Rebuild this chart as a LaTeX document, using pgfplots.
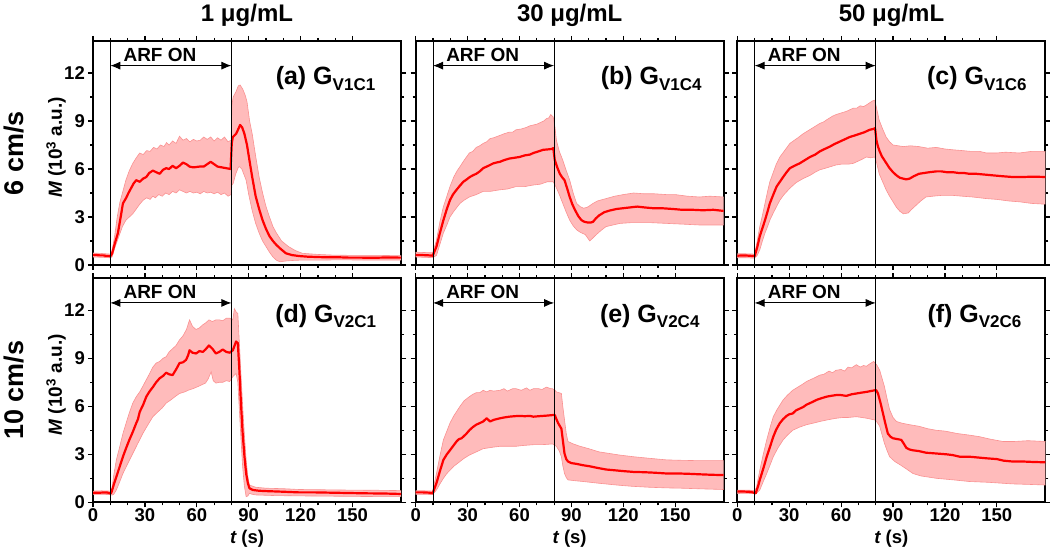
\documentclass[border=0pt]{standalone}
\usepackage{fontspec}
\setmainfont{Liberation Sans}
\usepackage{pgfplots}
\pgfplotsset{compat=1.18}
\usepgfplotslibrary{fillbetween}
\usetikzlibrary{arrows.meta}
\definecolor{bandfill}{RGB}{255,187,187}
\definecolor{bandedge}{RGB}{250,145,145}
\definecolor{curve}{RGB}{255,0,0}
\newcommand{\tickf}{\fontsize{18.5}{20}\selectfont\bfseries}
\newcommand{\arff}{\fontsize{19}{21}\selectfont\bfseries}
\newcommand{\plab}[2]{{\fontsize{25}{27}\selectfont\bfseries (#1) G}{\fontsize{17}{19}\selectfont\bfseries\raisebox{-5.5pt}{#2}}}
\pgfplotsset{
 panel/.style={
  width=308pt, height=224pt, scale only axis, anchor=south west,
  xmin=0, xmax=178, ymin=0, ymax=14,
  xtick={0,30,...,150}, minor x tick num=2,
  ytick={0,3,...,12}, minor y tick num=1,
  tick align=outside, major tick length=5pt, minor tick length=3pt,
  axis line style={line width=2pt},
  every tick/.style={black, line width=1.2pt},
  ticklabel style={font=\tickf},
  xticklabel style={inner sep=1pt},
  yticklabel style={inner sep=1pt, xshift=-2pt},
  /pgf/number format/assume math mode=true,
  set layers,
 },
 edge/.style={draw=bandedge, line width=0.6pt},
 meanline/.style={draw=curve, line width=2.2pt, line join=round},
 ylab/.style={ylabel={\fontsize{19}{21}\selectfont\bfseries\itshape M\upshape\ (10\textsuperscript{3} a.u.)},
   ylabel style={at={(axis description cs:-0.101,0.5246)}, anchor=base, rotate=0}},
 xlab/.style={xlabel={\fontsize{18.5}{20}\selectfont\bfseries\itshape t\upshape\ (s)},
   xlabel style={at={(axis description cs:0.5,0)}, anchor=base, yshift=-41pt}},
}
\newcommand{\deco}{%
 \draw[line width=0.9pt] (axis cs:10,0) -- (axis cs:10,14);
 \draw[line width=0.9pt] (axis cs:80,0) -- (axis cs:80,14);
 \draw[{Latex[length=10pt,width=8pt]}-{Latex[length=10pt,width=8pt]}, line width=0.9pt] (axis cs:10,12.46) -- (axis cs:80,12.46);
 \node[anchor=base, inner sep=0pt, font=\arff] at (axis cs:38.7,12.72) {ARF ON};
}
\begin{document}
\begin{tikzpicture}
% ---------------- (a)
\begin{axis}[panel, ylab, at={(93pt,283pt)}, xticklabels={}]
\addplot[edge, name path=ua] coordinates {(0,0.75)(5,0.72)(10,0.68)(11,0.9)(12.5,1.8)(14,3.0)(15.5,3.9)(17,4.5)(19,5.3)(21,5.9)(23,6.35)(25,6.7)(27,7.0)(29,6.9)(31,7.15)(33,7.1)(35,7.35)(37,7.25)(39,7.5)(41,7.4)(42.5,7.65)(44,7.5)(46,7.75)(48,7.6)(50,8.05)(52,7.8)(54,7.9)(56,7.7)(58,7.85)(60,7.75)(62,7.8)(64,8.0)(66,7.85)(68,8.0)(70,7.75)(72,7.95)(74,7.8)(76,8.0)(78,7.7)(79.8,7.8)(80.3,10.0)(81,10.5)(82.5,10.8)(84,11.2)(85,11.25)(86.5,11.0)(88,10.6)(89,10.2)(90.5,9.0)(92,8.2)(94,6.8)(96,5.5)(98,4.5)(100,3.65)(102,3.0)(104,2.4)(106,2.0)(109,1.5)(113,1.15)(117,0.9)(121,0.73)(130,0.66)(138,0.62)(150,0.6)(165,0.6)(178,0.58)};
\addplot[edge, name path=la] coordinates {(0,0.5)(5,0.48)(10,0.45)(11,0.5)(13,1.2)(15,1.8)(17,2.4)(19,2.8)(21,3.0)(23,3.2)(25,3.5)(27,3.8)(29,4.05)(31,4.2)(33,4.1)(34.6,4.3)(36,4.2)(38,4.4)(40,4.3)(42,4.5)(44,4.4)(46,4.6)(48,4.5)(50,4.7)(52,4.6)(54,4.5)(56,4.6)(58,4.5)(60,4.55)(62,4.45)(64,4.6)(66,4.5)(68,4.55)(70,4.45)(72,4.55)(74,4.4)(76,4.5)(78,4.3)(79.8,4.4)(80.3,5.0)(81,5.1)(82.5,5.7)(84,6.1)(84.6,6.15)(86,6.0)(88.5,5.3)(90,4.4)(92,3.4)(94,2.6)(96,2.0)(98,1.5)(100,1.15)(102,0.8)(104,0.5)(106,0.3)(108,0.2)(111.5,0.25)(115,0.28)(119,0.3)(130,0.3)(140,0.32)(160,0.31)(178,0.31)};
\addplot[bandfill] fill between[of=ua and la];
\addplot[meanline] coordinates {(0,0.63)(2,0.62)(4,0.6)(6,0.6)(8,0.56)(10,0.55)(11,0.7)(12.5,1.3)(14.4,2.0)(16,3.0)(17.3,3.85)(19.2,4.2)(20.5,4.5)(22,4.8)(23.5,5.1)(25,5.3)(27,5.2)(29,5.4)(30.8,5.5)(32.5,5.75)(34.6,5.9)(36.5,5.8)(38.5,5.7)(40.5,5.95)(42.3,6.05)(44,6.0)(46,6.2)(48,6.05)(50,6.2)(52,6.4)(54,6.3)(55.8,6.15)(58,6.1)(61.5,6.15)(64,6.15)(66,6.3)(68,6.45)(70,6.3)(72,6.15)(74.5,6.1)(77,6.05)(79.5,6.0)(80.2,7.6)(80.8,8.0)(82.7,8.2)(84,8.5)(85,8.75)(86.2,8.6)(87.5,8.2)(89,7.5)(90.4,6.55)(92,5.5)(94,4.3)(96,3.5)(98,2.8)(100,2.25)(102,1.8)(104,1.5)(106,1.25)(108.5,1.0)(111.5,0.73)(115,0.62)(119,0.56)(124,0.52)(129,0.5)(135,0.48)(140,0.49)(148,0.46)(155,0.46)(162,0.45)(170,0.47)(178,0.46)};
\deco
\node[anchor=base east, inner sep=0pt] at (rel axis cs:0.917,0.8036) {\plab{a}{V1C1}};
\end{axis}
% ---------------- (b)
\begin{axis}[panel, at={(415.7pt,283pt)}, xticklabels={}, yticklabels={}]
\addplot[edge, name path=ub] coordinates {(0,0.8)(5,0.78)(9.8,0.76)(12,1.55)(14,2.7)(16,3.65)(18,4.3)(19.8,4.9)(22,5.5)(24,5.9)(25.6,6.15)(28,6.55)(31,7.0)(33,7.1)(35,7.35)(37,7.45)(39,7.6)(41,7.7)(43,7.9)(45,7.95)(48.7,8.1)(51,8.2)(54,8.3)(56,8.3)(58,8.45)(61,8.5)(64,8.6)(66,8.7)(68,8.75)(70,8.8)(72,8.9)(74,9.0)(75.6,9.15)(77,9.2)(78,9.4)(79.5,9.25)(80.5,8.6)(81.3,7.8)(83,7.1)(85,6.55)(87,5.9)(89,5.3)(91,4.5)(93,3.85)(95,3.65)(97,3.55)(99,3.6)(100.5,3.7)(102.5,3.85)(105,4.0)(110,4.15)(115,4.3)(120,4.4)(126,4.5)(132,4.45)(138,4.45)(145,4.4)(150,4.4)(157,4.3)(164,4.25)(170,4.3)(178,4.25)};
\addplot[edge, name path=lb] coordinates {(0,0.5)(5,0.48)(9.8,0.46)(12,0.6)(14,1.3)(16,2.0)(18,2.5)(19.8,3.0)(22,3.35)(25.6,3.85)(28,4.05)(31,4.25)(35,4.4)(39,4.6)(43,4.6)(48.7,4.7)(53,4.75)(58,4.9)(63,4.9)(68,5.0)(72,5.05)(76,5.2)(79.5,5.2)(81,4.9)(83,4.4)(85,3.85)(87,3.3)(89,2.8)(91,2.45)(93,2.2)(95,2.05)(98,1.9)(100.6,1.5)(102.5,1.7)(104.4,1.9)(107,2.15)(110,2.4)(114,2.5)(118,2.6)(125,2.65)(135,2.65)(145,2.6)(155,2.55)(164,2.5)(178,2.5)};
\addplot[bandfill] fill between[of=ub and lb];
\addplot[meanline] coordinates {(0,0.63)(4,0.62)(8,0.6)(9.8,0.58)(12,1.15)(14,2.0)(16,2.8)(18,3.5)(19.8,4.05)(21.5,4.4)(23.6,4.7)(25.5,4.95)(27.5,5.2)(29.5,5.35)(31.3,5.5)(33,5.6)(35,5.7)(37,5.85)(39,6.05)(42,6.2)(44.8,6.35)(46.5,6.4)(48.7,6.45)(51,6.55)(54,6.65)(57,6.7)(60,6.75)(63,6.85)(66,6.9)(68,7.0)(71,7.1)(73.7,7.2)(76,7.22)(78.5,7.25)(79.5,7.3)(80.4,6.55)(81.8,6.1)(83.3,5.7)(84.5,5.5)(86,5.3)(87.5,4.8)(89,4.25)(90.5,3.8)(92,3.45)(94,3.05)(95.8,2.8)(97.5,2.7)(99.6,2.65)(101,2.65)(102.5,2.7)(104,2.9)(106,3.1)(109,3.3)(112,3.4)(116,3.5)(120,3.55)(124,3.6)(128,3.65)(132,3.6)(137,3.55)(142,3.55)(148.6,3.5)(154,3.45)(160,3.45)(166,3.42)(172,3.45)(178,3.38)};
\deco
\node[anchor=base east, inner sep=0pt] at (rel axis cs:0.929,0.8036) {\plab{b}{V1C4}};
\end{axis}
% ---------------- (c)
\begin{axis}[panel, at={(737.3pt,283pt)}, xticklabels={}, yticklabels={}]
\addplot[edge, name path=uc] coordinates {(0,0.7)(5,0.7)(10,0.68)(11.5,1.5)(13,2.4)(14.5,3.1)(16,3.85)(17.5,4.6)(18.8,5.2)(20.5,5.7)(22.5,6.3)(24.6,6.75)(27,7.1)(30.4,7.6)(33,7.8)(35,7.95)(38,8.2)(41,8.4)(44,8.6)(47.7,8.85)(50,8.95)(52,9.1)(55,9.3)(57,9.4)(60,9.5)(63,9.6)(65,9.7)(67,9.8)(69,9.8)(71,9.95)(73,9.9)(74.6,10.0)(76,10.1)(78,10.25)(79.4,10.3)(80.5,9.8)(82,9.05)(84,8.5)(86,8.0)(88,7.7)(90,7.5)(93,7.45)(96,7.4)(100,7.45)(105,7.4)(110,7.3)(115,7.35)(120,7.25)(124.6,7.2)(130,7.15)(135,7.1)(140,7.1)(144,7.0)(150,7.0)(155,7.05)(163,7.0)(170,7.1)(178,7.1)};
\addplot[edge, name path=lc] coordinates {(0,0.45)(5,0.45)(10,0.43)(11.5,0.6)(13,0.95)(14.5,1.5)(16,2.0)(17.5,2.4)(18.8,2.8)(21,3.3)(24.6,4.05)(27,4.4)(30.4,4.8)(34,5.15)(38,5.4)(42,5.6)(45,5.8)(47.7,5.95)(51,6.05)(54,6.15)(57,6.25)(60,6.3)(64,6.3)(67,6.35)(70,6.5)(72,6.6)(74.6,6.75)(77,6.7)(79.4,6.75)(80.5,6.4)(82,5.7)(84,5.2)(86,4.7)(88,4.3)(90,3.95)(92,3.6)(94,3.35)(96,3.2)(98.7,3.25)(101,3.5)(103.5,3.75)(106,4.0)(109,4.25)(113,4.3)(118,4.35)(124.6,4.35)(130,4.3)(136,4.25)(144,4.15)(150,4.1)(157,4.0)(163,3.95)(170,3.85)(178,3.8)};
\addplot[bandfill] fill between[of=uc and lc];
\addplot[meanline] coordinates {(0,0.58)(4,0.6)(8,0.57)(10,0.55)(11.5,1.1)(13,1.8)(14.5,2.3)(16,2.8)(17.5,3.35)(18.8,3.85)(20.8,4.4)(22.7,4.9)(24.6,5.2)(26.5,5.5)(28.5,5.8)(30.4,6.05)(33,6.2)(36,6.35)(39,6.55)(42,6.75)(45,6.9)(47.7,7.1)(50.5,7.25)(53.5,7.4)(56,7.55)(59,7.7)(62,7.85)(65,8.0)(68,8.1)(70.8,8.2)(73.5,8.3)(76.5,8.45)(78.5,8.5)(79.6,8.55)(80.4,7.8)(81.3,7.4)(82.3,7.1)(83.5,6.8)(85,6.55)(86.5,6.3)(88,6.05)(90,5.8)(92,5.6)(94,5.45)(95.8,5.4)(97.7,5.35)(99.6,5.4)(102,5.55)(105,5.7)(108,5.75)(111,5.8)(115,5.85)(118,5.85)(121,5.8)(124.6,5.8)(128,5.75)(131,5.75)(134,5.7)(138,5.7)(143,5.65)(148,5.6)(153,5.55)(159,5.5)(165,5.5)(171,5.52)(178,5.5)};
\deco
\node[anchor=base east, inner sep=0pt] at (rel axis cs:0.94,0.8036) {\plab{c}{V1C6}};
\end{axis}
% ---------------- (d)
\begin{axis}[panel, ylab, xlab, at={(93pt,45.7pt)}]
\addplot[edge, name path=ud] coordinates {(0,0.7)(5,0.72)(10,0.7)(11,0.9)(12,1.7)(13.5,2.65)(15.5,3.5)(17.3,4.3)(19,4.9)(21,5.6)(23,6.2)(25,6.6)(27,6.9)(28.8,7.25)(30.5,7.6)(32.5,8.0)(34.6,8.45)(36.5,8.7)(38.5,8.8)(40.5,9.0)(42.3,9.1)(44,9.4)(46,9.6)(48,9.8)(50,10.15)(52,10.4)(54,10.8)(55.8,11.4)(57.5,11.0)(59.5,10.8)(61.5,10.9)(63.5,11.1)(65,11.2)(67,11.4)(69,11.3)(71,11.4)(73,11.4)(75,11.35)(77,11.5)(79,11.5)(80.8,11.4)(81.7,12.1)(82.7,11.9)(83.7,11.8)(84.6,9.95)(85.5,8.0)(86.5,6.0)(87.5,4.2)(88.5,2.65)(89.5,1.6)(90.4,1.08)(94,0.94)(100,0.88)(110,0.85)(119,0.8)(135,0.78)(150,0.76)(165,0.75)(178,0.73)};
\addplot[edge, name path=ld] coordinates {(0,0.5)(5,0.5)(10,0.48)(11,0.45)(12,0.5)(13.5,0.77)(15.5,1.3)(17.3,1.8)(20,2.4)(23,3.05)(26,3.7)(28.8,4.3)(31.5,4.8)(34.6,5.35)(37,5.6)(40,5.9)(42.3,6.2)(45,6.4)(48,6.65)(50,6.8)(53,6.9)(55,7.0)(57.7,7.1)(60,7.2)(62,7.3)(65,7.45)(66.5,7.7)(68.3,8.15)(69.5,7.6)(71,7.45)(73,7.5)(75,7.5)(77,7.6)(79,7.55)(80.8,7.85)(82.7,8.05)(83.7,7.5)(84.6,5.75)(85.5,4.0)(86.5,2.2)(87.5,1.0)(88.5,0.35)(89.5,0.4)(90.4,0.56)(92,0.5)(94,0.46)(105,0.42)(119,0.4)(140,0.38)(160,0.36)(178,0.35)};
\addplot[bandfill] fill between[of=ud and ld];
\addplot[meanline] coordinates {(0,0.6)(4,0.6)(8,0.62)(10,0.55)(10.6,0.6)(12,1.1)(13.5,1.6)(15.5,2.25)(17.3,2.85)(19,3.35)(21,3.9)(23,4.4)(25,4.95)(26,5.2)(27,5.65)(29,6.1)(30.8,6.6)(32.5,6.9)(34.6,7.2)(36.5,7.5)(38.5,7.75)(40.5,7.9)(42.3,8.1)(44,8.0)(46,7.95)(48,8.3)(50,8.7)(52,8.75)(53.8,8.9)(55,9.2)(55.8,9.5)(57.5,9.35)(59.6,9.3)(61.5,9.45)(63.5,9.4)(65,9.55)(67,9.8)(69,9.6)(71,9.3)(73,9.4)(75,9.55)(77,9.4)(79,9.35)(80.8,9.5)(82.7,10.05)(83.7,9.95)(84.6,8.25)(85.5,6.2)(86.5,4.3)(87.5,2.9)(88.5,1.8)(89.5,1.2)(90.4,0.88)(92.3,0.77)(96,0.72)(100,0.7)(110,0.66)(119,0.62)(128,0.62)(138,0.6)(148,0.58)(157.7,0.56)(168,0.55)(178,0.52)};
\deco
\node[anchor=base east, inner sep=0pt] at (rel axis cs:0.92,0.8036) {\plab{d}{V2C1}};
\end{axis}
% ---------------- (e)
\begin{axis}[panel, xlab, at={(415.7pt,45.7pt)}, yticklabels={}]
\addplot[edge, name path=ue] coordinates {(0,0.72)(5,0.72)(9.8,0.7)(12,1.8)(14,2.9)(16,3.9)(18,4.45)(19.8,4.95)(22,5.4)(25.6,6.0)(28,6.35)(31,6.6)(33,6.75)(35,6.85)(37,6.85)(39,7.0)(41,6.9)(43,7.0)(45,6.95)(48.7,7.0)(51,7.1)(53,6.95)(56,7.1)(58,7.1)(61,7.0)(64,7.15)(66,7.0)(68,7.1)(71,7.1)(73,7.05)(75.6,7.2)(78,7.1)(79,7.1)(80.5,7.0)(81.3,6.9)(84.2,6.8)(85,6.0)(86,5.15)(87,4.3)(88,3.8)(91,3.65)(95,3.5)(100,3.35)(106,3.15)(112,3.05)(118,2.95)(125.6,2.85)(135,2.75)(145,2.65)(155,2.62)(165,2.6)(178,2.6)};
\addplot[edge, name path=le] coordinates {(0,0.5)(5,0.5)(9.8,0.48)(12,0.77)(14,1.15)(16,1.5)(18,1.8)(19.8,2.0)(22,2.25)(25.6,2.55)(28,2.75)(31,2.95)(34,3.1)(36,3.2)(39,3.35)(42,3.4)(45,3.45)(48.7,3.5)(53,3.5)(58,3.5)(62,3.55)(68,3.6)(72,3.6)(76,3.62)(79,3.65)(81.3,3.5)(83,3.2)(84.2,2.85)(85,2.3)(86,1.8)(87,1.55)(88,1.4)(92,1.35)(96.7,1.3)(105,1.2)(116,1.08)(125,1.0)(135,0.94)(145,0.9)(154,0.88)(165,0.84)(178,0.8)};
\addplot[bandfill] fill between[of=ue and le];
\addplot[meanline] coordinates {(0,0.62)(4,0.62)(8,0.6)(9.8,0.56)(12,1.2)(14,1.95)(16,2.65)(18,3.0)(19.8,3.25)(21.5,3.5)(23.6,3.8)(25,3.95)(26.5,4.0)(28,4.15)(29.4,4.3)(31,4.5)(33,4.7)(35,4.85)(37,4.95)(39,5.05)(41,5.25)(43,5.05)(45,5.15)(48.7,5.25)(51,5.3)(54,5.35)(57,5.38)(60,5.4)(63,5.38)(66,5.4)(68,5.35)(71,5.38)(73.7,5.4)(76,5.42)(79,5.45)(80.4,5.45)(81.3,5.2)(82.3,4.95)(84.2,4.6)(85,3.9)(86,3.05)(87,2.7)(88,2.55)(90,2.45)(93,2.4)(96.5,2.32)(100.6,2.25)(105,2.15)(110,2.05)(115,2.0)(120,1.95)(125.6,1.9)(132,1.88)(138,1.85)(145,1.8)(152,1.8)(158,1.78)(164,1.75)(171,1.72)(178,1.7)};
\deco
\node[anchor=base east, inner sep=0pt] at (rel axis cs:0.922,0.8036) {\plab{e}{V2C4}};
\end{axis}
% ---------------- (f)
\begin{axis}[panel, xlab, at={(737.3pt,45.7pt)}, yticklabels={}]
\addplot[edge, name path=uf] coordinates {(0,0.75)(5,0.76)(10,0.74)(11,0.9)(13,2.0)(15,3.0)(17,3.9)(19,4.7)(20.8,5.35)(23,5.8)(26.5,6.4)(29,6.7)(32,7.0)(35,7.2)(38,7.4)(40,7.55)(43,7.7)(45,7.8)(47.7,7.95)(50,8.0)(53,8.2)(55,8.1)(57,8.25)(60,8.3)(62,8.2)(64,8.45)(66,8.4)(68.8,8.6)(71,8.45)(73,8.55)(74.6,8.5)(76.5,8.65)(78.8,8.8)(80.5,8.6)(82.3,8.25)(83.5,7.8)(85,7.25)(86.5,6.5)(88,5.8)(90,5.3)(92,5.05)(95,4.95)(99.6,4.85)(105,4.75)(110,4.6)(115,4.5)(120,4.45)(127,4.3)(134,4.2)(140,4.1)(146,3.95)(153.5,3.8)(160,3.8)(168,3.85)(178,3.8)};
\addplot[edge, name path=lf] coordinates {(0,0.55)(5,0.56)(10,0.54)(11,0.55)(13,0.77)(15,1.3)(17,1.8)(19,2.35)(20.8,2.85)(23.5,3.4)(26.5,3.9)(29,4.2)(32,4.5)(36,4.7)(40,4.85)(44,4.95)(47.7,5.05)(52,5.15)(57,5.25)(61,5.3)(64,5.3)(68.8,5.35)(72,5.3)(75,5.25)(77,5.2)(79.4,5.15)(80.8,5.0)(82.3,4.75)(83.7,4.2)(85,3.7)(86.5,3.25)(88,2.85)(91,2.55)(94,2.35)(97.5,2.1)(101.5,1.8)(106,1.65)(115,1.5)(125,1.4)(134,1.3)(145,1.25)(159,1.15)(168,1.12)(178,1.08)};
\addplot[bandfill] fill between[of=uf and lf];
\addplot[meanline] coordinates {(0,0.67)(4,0.67)(8,0.65)(10.6,0.56)(12,1.0)(13,1.4)(15,2.1)(17,2.85)(19,3.5)(20.8,4.1)(22.5,4.55)(24.6,4.95)(26.5,5.2)(28.5,5.4)(30,5.5)(32,5.55)(34,5.75)(36,5.85)(38,5.95)(40,6.1)(43,6.25)(45.8,6.4)(48.5,6.5)(51.5,6.6)(54,6.65)(57,6.7)(60,6.7)(63,6.65)(66,6.75)(68.8,6.8)(71.5,6.85)(74.6,6.9)(77,6.95)(79.4,7.0)(80.3,7.0)(81.3,6.8)(82.8,6.2)(84.2,5.55)(85.6,4.9)(87,4.3)(88.5,4.1)(90,4.0)(92.5,3.95)(94.8,3.9)(96.3,3.65)(97.7,3.4)(99.5,3.3)(101.5,3.25)(105,3.2)(109,3.1)(115,3.05)(120.8,3.0)(124.5,2.95)(128.5,2.85)(134,2.85)(139,2.8)(144,2.75)(150,2.7)(154,2.6)(159,2.55)(165,2.55)(171,2.52)(178,2.5)};
\deco
\node[anchor=base east, inner sep=0pt] at (rel axis cs:0.923,0.8036) {\plab{f}{V2C6}};
\end{axis}
% ---------------- titles
\node[anchor=base, font=\fontsize{24}{26}\selectfont\bfseries] at (247pt,526pt) {1 μg/mL};
\node[anchor=base, font=\fontsize{24}{26}\selectfont\bfseries] at (569.7pt,526pt) {30 μg/mL};
\node[anchor=base, font=\fontsize{24}{26}\selectfont\bfseries] at (891.5pt,526pt) {50 μg/mL};
\node[anchor=base, rotate=90, font=\fontsize{27}{29}\selectfont\bfseries] at (23pt,395pt) {6 cm/s};
\node[anchor=base, rotate=90, font=\fontsize{27}{29}\selectfont\bfseries] at (23pt,157.7pt) {10 cm/s};
\pgfresetboundingbox
\path[use as bounding box] (0pt,0pt) rectangle (1050pt,548pt);
\end{tikzpicture}
\end{document}
